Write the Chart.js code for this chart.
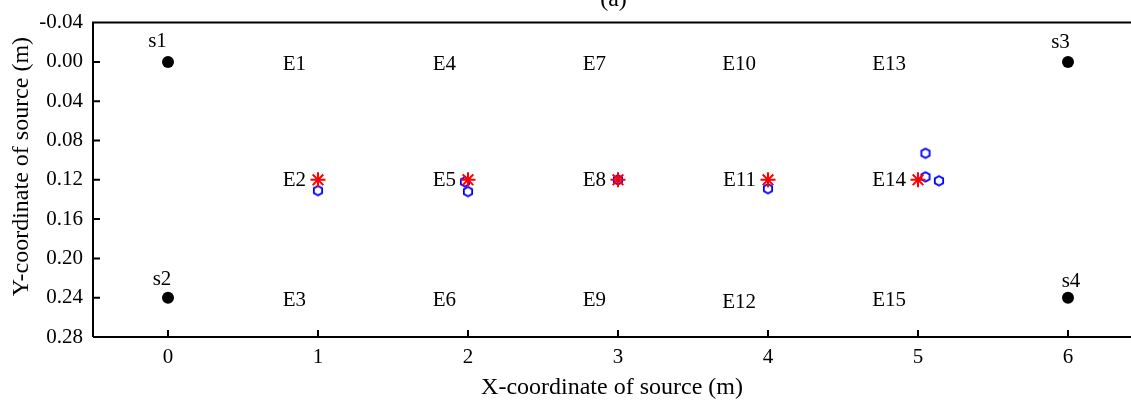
<!DOCTYPE html>
<html>
<head>
<meta charset="utf-8">
<script src="https://cdn.jsdelivr.net/npm/chart.js@4.4.1/dist/chart.umd.min.js"></script>
<style>
body{margin:0;background:#fff;}
</style>
</head>
<body>
<canvas id="myChart" width="1131" height="402"></canvas>
<script>
// fuentes (sources)
const sourceNames = ['s1', 's2', 's3', 's4'];
const sourceX = [0, 0, 6, 6];
const sourceY = [0, 0.24, 0, 0.24];
const sourceLabelX = [-0.07, -0.04, -0.05, 0.02];
const sourceLabelY = [-0.021, 0.221, -0.020, 0.224];

// posiciones reales
const trueX = [1, 2, 3, 4, 5];
const trueY = [0.12, 0.12, 0.12, 0.12, 0.12];

// posiciones estimadas
const estX = [1, 1.98, 2, 3, 4, 5.05, 5.05, 5.14];
const estY = [0.131, 0.122, 0.132, 0.12, 0.129, 0.093, 0.117, 0.121];

// etiquetas de la malla
const gridNames = ['E1','E2','E3','E4','E5','E6','E7','E8','E9','E10','E11','E12','E13','E14','E15'];
const gridX = [1,1,1, 2,2,2, 3,3,3, 4,4,4, 5,5,5];
const gridY = [0.003,0.121,0.243, 0.003,0.121,0.243, 0.003,0.121,0.243, 0.003,0.121,0.245, 0.003,0.121,0.243];

const xTicks = [0, 1, 2, 3, 4, 5, 6];
const yTicks = [-0.04, 0, 0.04, 0.08, 0.12, 0.16, 0.20, 0.24, 0.28];

const FONT = "'Liberation Serif', 'Times New Roman', serif";

let toPoints = function(xs, ys){
    return xs.map((x, i) => ({x: x, y: ys[i]}));
};

// hexagono azul
let hexagon = document.createElement('canvas');
hexagon.width = 14;
hexagon.height = 14;
let hctx = hexagon.getContext('2d');
hctx.strokeStyle = '#0000ff';
hctx.lineWidth = 1.8;
hctx.beginPath();
for (let k = 0; k < 6; k++) {
    let a = Math.PI / 2 + k * Math.PI / 3;
    let px = 7 + 4.8 * Math.cos(a);
    let py = 7 + 4.8 * Math.sin(a);
    if (k == 0) hctx.moveTo(px, py); else hctx.lineTo(px, py);
}
hctx.closePath();
hctx.stroke();

const framePlugin = {
    id: 'frame',
    afterDraw(chart) {
        const ctx = chart.ctx;
        const a = chart.chartArea;
        const xs = chart.scales.x;
        const ys = chart.scales.y;
        ctx.save();
        ctx.strokeStyle = '#000';
        ctx.lineWidth = 2;
        ctx.beginPath();
        ctx.moveTo(a.left, a.bottom);
        ctx.lineTo(a.left, a.top);
        ctx.lineTo(a.right + 2, a.top);
        ctx.moveTo(a.left, a.bottom);
        ctx.lineTo(a.right + 2, a.bottom);
        // ticks hacia adentro
        xTicks.forEach(v => {
            let px = xs.getPixelForValue(v);
            ctx.moveTo(px, a.bottom);
            ctx.lineTo(px, a.bottom - 7);
        });
        yTicks.forEach(v => {
            let py = ys.getPixelForValue(v);
            ctx.moveTo(a.left, py);
            ctx.lineTo(a.left + 7, py);
        });
        ctx.stroke();

        ctx.fillStyle = '#000';
        ctx.font = '21px ' + FONT;
        ctx.textBaseline = 'middle';
        ctx.textAlign = 'right';
        gridNames.forEach((n, i) => {
            ctx.fillText(n, xs.getPixelForValue(gridX[i]) - 12, ys.getPixelForValue(gridY[i]));
        });
        ctx.textAlign = 'center';
        sourceNames.forEach((n, i) => {
            ctx.fillText(n, xs.getPixelForValue(sourceX[i] + sourceLabelX[i]), ys.getPixelForValue(sourceLabelY[i]));
        });
        ctx.font = '24px ' + FONT;
        ctx.fillText('(a)', xs.getPixelForValue(2.97), 0);
        // titulo del eje Y
        ctx.translate(22, ys.getPixelForValue(0.1065));
        ctx.rotate(-Math.PI / 2);
        ctx.fillText('Y-coordinate of source (m)', 0, 0);
        ctx.restore();
    }
};

let ctx = document.getElementById('myChart').getContext('2d');
let chart = new Chart(ctx, {
    type: 'scatter',
    data: {
        datasets: [
            {
                label: 'Sources',
                data: toPoints(sourceX, sourceY),
                pointStyle: 'circle',
                pointRadius: 6,
                backgroundColor: '#000',
                borderColor: '#000',
                borderWidth: 0,
                order: 0
            },
            {
                label: 'Actual',
                data: toPoints(trueX, trueY),
                pointStyle: 'star',
                pointRadius: 7.5,
                borderColor: '#ff0000',
                backgroundColor: '#ff0000',
                borderWidth: 2,
                order: 1
            },
            {
                label: 'Estimated',
                data: toPoints(estX, estY),
                pointStyle: hexagon,
                order: 2
            }
        ]
    },
    options: {
        responsive: false,
        animation: false,
        events: [],
        layout: {autoPadding: false, padding: {top: 21, right: 0, left: 0, bottom: 0}},
        plugins: {
            legend: {display: false},
            tooltip: {enabled: false}
        },
        scales: {
            x: {
                type: 'linear',
                min: -0.5,
                max: 6.42,
                afterBuildTicks: (s) => { s.ticks = xTicks.map(v => ({value: v})); },
                afterFit: (s) => { s.height = 65; s.paddingLeft = 0; s.paddingRight = 0; },
                grid: {display: false, drawTicks: false},
                border: {display: false},
                ticks: {
                    color: '#000',
                    font: {family: FONT, size: 21},
                    padding: 8,
                    maxRotation: 0,
                    callback: (v) => String(v)
                },
                title: {
                    display: true,
                    text: 'X-coordinate of source (m)',
                    color: '#000',
                    font: {family: FONT, size: 24},
                    padding: {top: 0, bottom: 0}
                }
            },
            y: {
                type: 'linear',
                reverse: true,
                min: -0.04,
                max: 0.28,
                afterBuildTicks: (s) => { s.ticks = yTicks.map(v => ({value: v})); },
                afterFit: (s) => { s.width = 93; },
                grid: {display: false, drawTicks: false},
                border: {display: false},
                ticks: {
                    color: '#000',
                    font: {family: FONT, size: 21},
                    padding: 10,
                    callback: (v) => v.toFixed(2)
                }
            }
        }
    },
    plugins: [framePlugin]
});
</script>
</body>
</html>
